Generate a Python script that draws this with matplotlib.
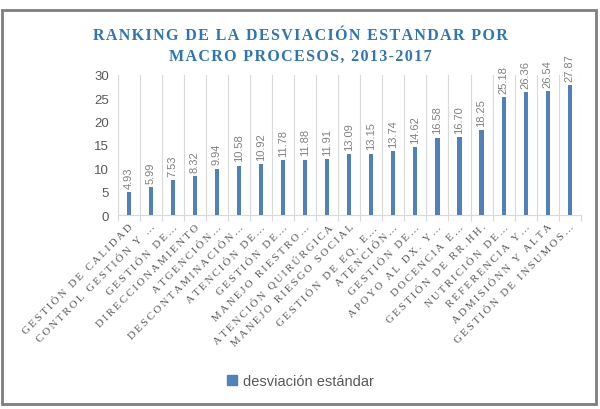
import matplotlib.pyplot as plt
from matplotlib.patches import Rectangle

categories = [
    "GESTIÓN DE CALIDAD", "CONTROL GESTIÓN Y …", "GESTIÓN DE…", "DIRECCIONAMIENTO",
    "ATGENCIÓN…", "DESCONTAMINACIÓN…", "ATENCIÓN DE…", "GESTIÓN DE…",
    "MANEJO RIESTRO…", "ATENCIÓN QUIRÚRGICA", "MANEJO RIESGO SOCIAL", "GESTIÓN DE EQ. E…",
    "ATENCIÓN…", "GESTIÓN DE…", "APOYO AL DX. Y…", "DOCENCIA E…",
    "GESTIÓN DE RR.HH.", "NUTRICIÓN DE…", "REFERENCIA Y…", "ADMISIÓNN Y ALTA",
    "GESTIÓN DE INSUMOS…",
]
desviacion = [4.93, 5.99, 7.53, 8.32, 9.94, 10.58, 10.92, 11.78, 11.88, 11.91,
              13.09, 13.15, 13.74, 14.62, 16.58, 16.70, 18.25, 25.18, 26.36, 26.54, 27.87]

TITLE = ["RANKING DE LA DESVIACIÓN ESTANDAR POR", "MACRO PROCESOS, 2013-2017"]
BLUE = "#4F81BD"
GRAY = "#595959"
GRID = "#D9D9D9"
SERIF = ["Liberation Serif", "DejaVu Serif"]


def spaced(s, sep="\u2009"):
    # fake letter spacing with thin spaces
    return sep.join(s)


fig = plt.figure(figsize=(6, 4.1), dpi=100)
ax = fig.add_axes([0.196, 0.473, 0.772, 0.342])

x = list(range(len(categories)))
ax.bar(x, desviacion, width=0.19, color=BLUE, zorder=3)
for xi, v in zip(x, desviacion):
    ax.annotate(f"{v:.2f}", (xi, v), xytext=(0, 3), textcoords="offset points",
                rotation=90, ha="center", va="bottom", fontsize=8, color="#808080",
                family="Liberation Sans")

ax.set_xlim(-0.5, len(categories) - 0.5)
ax.set_ylim(0, 30)
ax.set_yticks(range(0, 31, 5))
ax.tick_params(axis="y", length=0, labelsize=9.5, labelcolor=GRAY, pad=6)
for lab in ax.get_yticklabels():
    lab.set_family("Liberation Sans")

# category boundaries: vertical gridlines with small ticks below axis
bounds = [i - 0.5 for i in range(len(categories) + 1)]
ax.set_xticks(bounds, minor=True)
ax.tick_params(axis="x", which="minor", length=4, color=GRID, width=0.8)
ax.set_xticks(x)
ax.tick_params(axis="x", which="major", length=0, pad=5)
ax.set_xticklabels([spaced(c) for c in categories], rotation=45, ha="right",
                   rotation_mode="anchor", fontsize=7.8, color=GRAY, family=SERIF)
for b in bounds:
    ax.axvline(b, color=GRID, lw=0.8, zorder=1)

for side in ["top", "right", "left"]:
    ax.spines[side].set_visible(False)
ax.spines["bottom"].set_color(GRID)
ax.spines["bottom"].set_linewidth(0.8)

for i, (line, yy) in enumerate(zip(TITLE, [0.912, 0.861])):
    fig.text(0.5, yy, spaced(line, "\u200a"), ha="center", va="center", fontsize=11.5,
             fontweight="bold", color="#2E75B6", family=SERIF)

# legend
fig.legend([Rectangle((0, 0), 1, 1, color=BLUE)], ["desviación estándar"],
           loc="center", bbox_to_anchor=(0.5, 0.068), frameon=False,
           handlelength=0.7, handleheight=0.7, handletextpad=0.4,
           prop={"family": "Liberation Sans", "size": 10.5}, labelcolor=GRAY)

# outer chart border
fig.patches.append(Rectangle((0.004, 0.012), 0.99, 0.96, transform=fig.transFigure,
                             fill=False, edgecolor="#7F7F7F", lw=2))

fig.savefig("out.png", dpi=100)
